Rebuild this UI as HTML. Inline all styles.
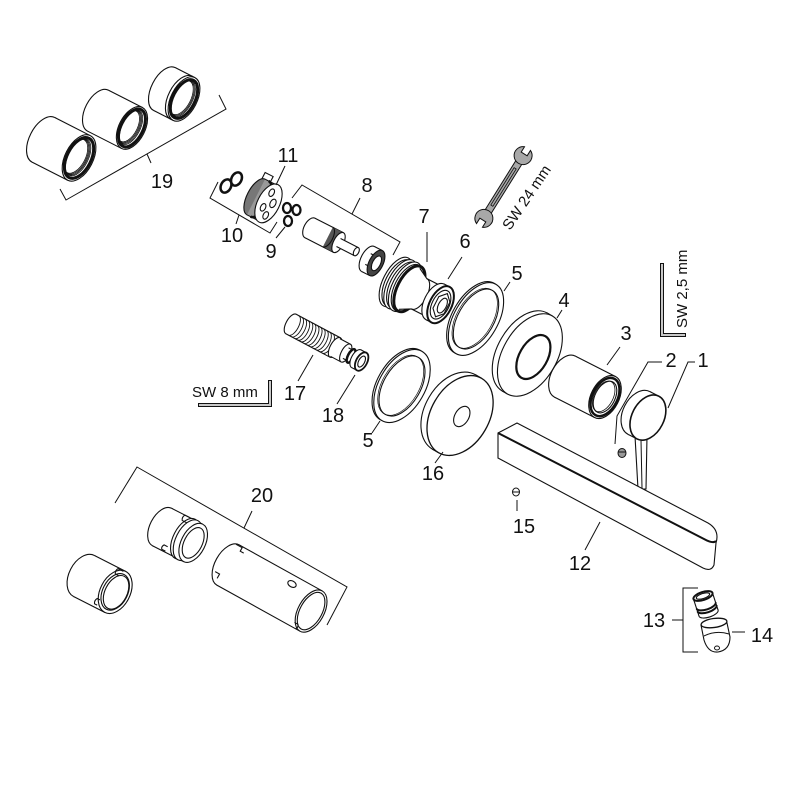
<!DOCTYPE html>
<html><head><meta charset="utf-8"><style>
html,body{margin:0;padding:0;background:#fff;}
svg{display:block}
.p{fill:#fff;stroke:#111;stroke-width:1.1}
.t{font-family:"Liberation Sans",sans-serif;font-size:20px;fill:#111;text-anchor:middle}
.s{font-family:"Liberation Sans",sans-serif;font-size:15px;fill:#111}
.l{fill:none;stroke:#111;stroke-width:1}
</style></head><body>
<svg width="800" height="800" viewBox="0 0 800 800" xmlns="http://www.w3.org/2000/svg">
<rect width="800" height="800" fill="#fff"/>

<!-- 19 cylinders -->
<g transform="translate(43.4,139.8) rotate(27)" class="p">
<ellipse rx="14" ry="25"/>
<rect x="0" y="-25" width="40" height="50" stroke="none"/>
<path d="M0,-25H40M0,25H40" fill="none"/>
<ellipse cx="40" rx="14" ry="25"/>
<g fill="none" stroke-width="0.8"><ellipse cx="39" rx="10" ry="20"/><ellipse cx="38" rx="10" ry="19.5"/><ellipse cx="37" rx="10" ry="19"/><ellipse cx="36" rx="10" ry="18.5"/></g>
<ellipse cx="40" rx="12" ry="22" fill="none" stroke-width="3"/>
</g>
<g transform="translate(98.1,110.7) rotate(27)" class="p">
<ellipse rx="13" ry="23"/>
<rect x="0" y="-23" width="38" height="46" stroke="none"/>
<path d="M0,-23H38M0,23H38" fill="none"/>
<ellipse cx="38" rx="13" ry="23"/>
<g fill="none" stroke-width="0.8"><ellipse cx="37" rx="9" ry="18.5"/><ellipse cx="36" rx="9" ry="18"/><ellipse cx="35" rx="9" ry="17.5"/><ellipse cx="34" rx="9" ry="17"/></g>
<ellipse cx="38" rx="11" ry="20.5" fill="none" stroke-width="3"/>
</g>
<g transform="translate(164.4,89) rotate(27)" class="p">
<ellipse rx="13" ry="24"/>
<rect x="0" y="-24" width="22" height="48" stroke="none"/>
<path d="M0,-24H22M0,24H22" fill="none"/>
<ellipse cx="19" rx="13" ry="24"/>
<ellipse cx="22" rx="13" ry="24"/>
<g fill="none" stroke-width="0.8"><ellipse cx="21" rx="9.5" ry="19.5"/><ellipse cx="20" rx="9.5" ry="19"/><ellipse cx="19" rx="9.5" ry="18.5"/></g>
<ellipse cx="22" rx="11" ry="21" fill="none" stroke-width="3"/>
</g>
<polyline class="l" points="60,189 66,200 226,109 219,95"/>
<line class="l" x1="147" y1="154" x2="151" y2="163"/>
<text class="t" x="162" y="188">19</text>

<!-- 10 rings -->
<ellipse cx="226" cy="186" rx="5" ry="7" transform="rotate(27 226 186)" fill="#fff" stroke="#111" stroke-width="2.5"/>
<ellipse cx="236.5" cy="179" rx="5" ry="7" transform="rotate(27 236.5 179)" fill="#fff" stroke="#111" stroke-width="2.5"/>
<!-- 11 -->
<g transform="translate(256,197) rotate(27)" class="p">
<rect x="-3" y="-26" width="9" height="8"/>
<ellipse rx="9" ry="20" fill="#777"/>
<rect x="0" y="-20" width="14" height="40" fill="#999" stroke="none"/>
<path d="M0,-20H14M0,20H14" fill="none"/>
<path d="M4,-20 A9,20 0 0 1 4,20" fill="none" stroke-width="2.5"/>
<ellipse cx="14" rx="11" ry="21"/>
<ellipse cx="12" cy="-11" rx="2.5" ry="4"/>
<ellipse cx="18" cy="-2" rx="2.8" ry="4.5"/>
<ellipse cx="11" cy="6" rx="2.5" ry="4"/>
<ellipse cx="17" cy="12" rx="2.5" ry="4"/>
</g>
<polyline class="l" points="218,182 210,198 270,233 277,222"/>
<line class="l" x1="239" y1="215" x2="236" y2="224"/>
<text class="t" x="232" y="242">10</text>
<line class="l" x1="285" y1="166" x2="276" y2="185"/>
<text class="t" x="288" y="162">11</text>

<!-- 9 -->
<g fill="#fff" stroke="#111" stroke-width="2.3">
<ellipse cx="287" cy="208" rx="4" ry="5"/>
<ellipse cx="296.5" cy="210" rx="4" ry="5"/>
<ellipse cx="288" cy="221" rx="4" ry="5"/>
</g>
<line class="l" x1="276" y1="238" x2="285" y2="227"/>
<text class="t" x="271" y="258">9</text>

<!-- 8 cartridge -->
<g transform="translate(310,228) rotate(27)" class="p">
<ellipse rx="6" ry="11"/>
<rect x="0" y="-11" width="32" height="22" stroke="none"/>
<path d="M0,-11H32M0,11H32" fill="none"/>
<rect x="20" y="-11" width="10" height="22" fill="#555" stroke="none"/>
<path d="M20,-11 A5,11 0 0 1 20,11" fill="none"/>
<ellipse cx="32" rx="5" ry="11"/>
<rect x="32" y="-4.5" width="20" height="9" stroke="none"/>
<path d="M32,-4.5H52M32,4.5H52" fill="none"/>
<ellipse cx="52" rx="2.5" ry="4.5"/>
</g>
<g transform="translate(368,259) rotate(27)" class="p">
<ellipse rx="7" ry="14"/>
<rect x="0" y="-14" width="9" height="28" stroke="none"/>
<path d="M0,-14H9M0,14H9M0,-6H9M0,6H9" fill="none"/>
<ellipse cx="9" rx="7" ry="14" fill="#444"/>
<ellipse cx="9.5" rx="4" ry="8"/>
</g>
<polyline class="l" points="292,198 302,185 400,242 393,255"/>
<line class="l" x1="352" y1="214" x2="360" y2="198"/>
<text class="t" x="367" y="192">8</text>

<!-- 7 & 6 -->
<g transform="translate(396,282) rotate(27)" class="p">
<ellipse cx="0" rx="13" ry="27"/>
<ellipse cx="2.6" rx="13" ry="25.5"/>
<ellipse cx="5.2" rx="13" ry="27"/>
<ellipse cx="7.8" rx="13" ry="25.5"/>
<ellipse cx="10.4" rx="13" ry="27"/>
<ellipse cx="13" rx="13" ry="25.5"/>
<ellipse cx="15" rx="12" ry="25" stroke-width="3"/>
<polygon points="15,-23 26,-17 44,-17 44,17 26,17 15,23" stroke="none"/>
<polyline points="15,-23 26,-17 44,-17" fill="none"/>
<polyline points="15,23 26,17 44,17" fill="none"/>
<path d="M26,-17 A8,17 0 0 1 26,17" fill="none"/>
<ellipse cx="44" rx="11" ry="20"/>
<rect x="44" y="-20" width="6" height="40" stroke="none"/>
<path d="M44,-20H50M44,20H50" fill="none"/>
<ellipse cx="50" rx="11" ry="20" stroke-width="2"/>
<ellipse cx="50" rx="8.5" ry="15.5"/>
<polygon points="57.2,6.5 51,13 44.8,6.5 44.8,-6.5 51,-13 57.2,-6.5"/>
<ellipse cx="52" rx="4" ry="8"/>
</g>
<line class="l" x1="427" y1="232" x2="427" y2="262"/>
<text class="t" x="424" y="223">7</text>
<line class="l" x1="462" y1="257" x2="448" y2="279"/>
<text class="t" x="465" y="248">6</text>

<!-- wrench -->
<g transform="translate(503.5,187) rotate(-58)" fill="#a8a8a8" stroke="#111" stroke-width="1">
<rect x="-31" y="-3.5" width="62" height="7"/>
<rect x="-22" y="-1.2" width="44" height="2.4" fill="none" stroke-width="0.8"/>
<path d="M45.3,-3.5 L39,-3.5 L39,3.5 L45.3,3.5 A9,9 0 1 1 45.3,-3.5Z"/>
<path d="M-45.3,3.5 L-39,3.5 L-39,-3.5 L-45.3,-3.5 A9,9 0 1 1 -45.3,3.5Z"/>
</g>
<text class="s" transform="translate(510,231) rotate(-56)">SW 24 mm</text>

<!-- SW 2,5 key -->
<path d="M662,263 L662,335 L686,335" fill="none" stroke="#111" stroke-width="4"/>
<path d="M662,264 L662,335 L685,335" fill="none" stroke="#c8c8c8" stroke-width="2"/>
<text class="s" transform="translate(687,328) rotate(-90)">SW 2,5 mm</text>

<!-- 5 upper -->
<g transform="translate(476,319) rotate(30)" class="p">
<ellipse cx="-2" rx="22" ry="40"/>
<ellipse cx="0" rx="22" ry="40"/>
<ellipse cx="0" rx="18" ry="33"/>
<ellipse cx="-1.5" rx="18" ry="33" fill="none" stroke-width="0.7"/>
</g>
<line class="l" x1="510" y1="282" x2="504" y2="291"/>
<text class="t" x="517" y="280">5</text>

<!-- 4 -->
<g transform="translate(524.7,352) rotate(30)" class="p">
<ellipse rx="27" ry="45"/>
<rect x="0" y="-45" width="6" height="90" stroke="none"/>
<path d="M0,-45H6M0,45H6" fill="none"/>
<ellipse cx="6" rx="27" ry="45"/>
<ellipse cx="10" rx="14" ry="24" stroke-width="2.2"/>
</g>
<line class="l" x1="562" y1="310" x2="557" y2="318"/>
<text class="t" x="564" y="307">4</text>

<!-- 3 -->
<g transform="translate(564.9,376.6) rotate(27)" class="p">
<ellipse rx="14" ry="23"/>
<rect x="0" y="-23" width="45" height="46" stroke="none"/>
<path d="M0,-23H45M0,23H45" fill="none"/>
<ellipse cx="45" rx="14" ry="23"/>
<ellipse cx="45" rx="12.5" ry="20.5" stroke-width="2.5"/>
<ellipse cx="45" rx="10" ry="17"/>
<ellipse cx="43.5" rx="9.5" ry="16.5" fill="none" stroke-width="0.8"/>
</g>
<line class="l" x1="620" y1="347" x2="607" y2="365"/>
<text class="t" x="626" y="340">3</text>

<!-- 1 lever & disk -->
<polygon class="p" points="635,436 647,436 646,489 638,489"/>
<line class="l" x1="641" y1="440" x2="642" y2="488"/>
<g transform="translate(639,413) rotate(27)" class="p">
<ellipse rx="16" ry="24"/>
<rect x="0" y="-24" width="10" height="48" stroke="none"/>
<path d="M0,-24H10M0,24H10" fill="none"/>
<ellipse cx="10" rx="16" ry="24" stroke-width="1.6"/>
</g>
<!-- 2 screw -->
<ellipse cx="622" cy="453" rx="4" ry="4.5" fill="#999" stroke="#111" stroke-width="1"/>
<line class="l" x1="618.5" y1="452" x2="625.5" y2="452"/>
<polyline class="l" points="662,362 648,362 617,416 615,444"/>
<text class="t" x="671" y="367">2</text>
<polyline class="l" points="695,362 688,362 668,408"/>
<text class="t" x="703" y="367">1</text>

<!-- 12 spout -->
<path class="p" d="M498,433 L517,423 L708,523 Q720,530 716,543 L714,565 Q711,572 703,568 L498,458 Z"/>
<path d="M498,433 L704,539 Q713,544 716,541" fill="none" stroke="#111" stroke-width="2"/>
<line class="l" x1="585" y1="550" x2="600" y2="522"/>
<text class="t" x="580" y="570">12</text>

<!-- 15 -->
<ellipse cx="516" cy="492" rx="3.5" ry="4" fill="#fff" stroke="#111" stroke-width="1"/>
<line class="l" x1="512.5" y1="492" x2="519.5" y2="492"/>
<line class="l" x1="517" y1="500" x2="517" y2="511"/>
<text class="t" x="524" y="533">15</text>

<!-- 5 lower -->
<g transform="translate(402,386) rotate(30)" class="p">
<ellipse cx="-2" rx="23" ry="40"/>
<ellipse cx="0" rx="23" ry="40"/>
<ellipse cx="0" rx="18.5" ry="33"/>
<ellipse cx="-1.5" rx="18.5" ry="33" fill="none" stroke-width="0.7"/>
</g>
<line class="l" x1="372" y1="433" x2="380" y2="421"/>
<text class="t" x="368" y="447">5</text>

<!-- 16 -->
<g transform="translate(454,412) rotate(30)" class="p">
<ellipse rx="29" ry="43"/>
<rect x="0" y="-43" width="7" height="86" stroke="none"/>
<path d="M0,-43H7M0,43H7" fill="none"/>
<ellipse cx="7" rx="29" ry="43" stroke-width="1.3"/>
<ellipse cx="9" rx="7" ry="11"/>
</g>
<line class="l" x1="435" y1="463" x2="443" y2="452"/>
<text class="t" x="433" y="480">16</text>

<!-- 17 threaded rod -->
<g transform="translate(291,324) rotate(28)" class="p">
<ellipse rx="5" ry="11"/>
<rect x="0" y="-11" width="50" height="22" stroke="none"/>
<path d="M0,-11H50M0,11H50" fill="none"/>
<g fill="none" stroke-width="0.9">
<path d="M3,-11A5,11 0 0 1 3,11M6.5,-11A5,11 0 0 1 6.5,11M10,-11A5,11 0 0 1 10,11M13.5,-11A5,11 0 0 1 13.5,11M17,-11A5,11 0 0 1 17,11M20.5,-11A5,11 0 0 1 20.5,11M24,-11A5,11 0 0 1 24,11M27.5,-11A5,11 0 0 1 27.5,11M31,-11A5,11 0 0 1 31,11M34.5,-11A5,11 0 0 1 34.5,11M38,-11A5,11 0 0 1 38,11M41.5,-11A5,11 0 0 1 41.5,11"/>
</g>
<ellipse cx="50" rx="5" ry="11"/>
<rect x="50" y="-10" width="12" height="20" stroke="none"/>
<path d="M50,-10H62M50,10H62" fill="none"/>
<ellipse cx="62" rx="4.5" ry="10"/>
<rect x="62" y="-6" width="12" height="12" stroke="none"/>
<path d="M62,-6H74M62,6H74" fill="none"/>
<ellipse cx="68" rx="3" ry="7.5" stroke-width="2.5"/>
<ellipse cx="74" rx="5" ry="10"/>
<rect x="74" y="-10" width="6" height="20" stroke="none"/>
<path d="M74,-10H80M74,10H80" fill="none"/>
<ellipse cx="80" rx="5.5" ry="10" stroke-width="1.8"/>
<ellipse cx="80" rx="3" ry="6"/>
</g>
<line class="l" x1="298" y1="381" x2="313" y2="355"/>
<text class="t" x="295" y="400">17</text>
<line class="l" x1="337" y1="404" x2="355" y2="375"/>
<text class="t" x="333" y="422">18</text>

<!-- SW 8 mm -->
<text class="s" x="192" y="397">SW 8 mm</text>
<path d="M198,405 L270,405 L270,380" fill="none" stroke="#111" stroke-width="4"/>
<path d="M199,405 L270,405 L270,381" fill="none" stroke="#c8c8c8" stroke-width="2"/>

<!-- 20 -->
<g transform="translate(84,576) rotate(27)" class="p">
<ellipse rx="15" ry="23"/>
<rect x="0" y="-23" width="35" height="46" stroke="none"/>
<path d="M0,-23H35M0,23H35" fill="none"/>
<ellipse cx="35" rx="15" ry="23"/>
<ellipse cx="35" rx="12.5" ry="19.5"/>
<ellipse cx="36" rx="11" ry="18"/>
<path d="M33,-22 L27,-22 Q25,-19 27,-16 L31,-16 M25,14 L22,14 Q20,17 22,20 L25,20" fill="none"/>
</g>
<g transform="translate(162,527) rotate(27)" class="p">
<ellipse rx="12" ry="21"/>
<rect x="0" y="-21" width="35" height="42" stroke="none"/>
<path d="M0,-21H35M0,21H35" fill="none"/>
<ellipse cx="26" rx="12" ry="22"/>
<ellipse cx="29" rx="12" ry="22"/>
<ellipse cx="35" rx="12" ry="21"/>
<ellipse cx="35" rx="9" ry="16.5"/>
<path d="M20,-21 L15,-21 Q13,-18 15,-15 L20,-15 M14,15 L10,15 Q8,18 10,20 L14,20" fill="none"/>
</g>
<g transform="translate(228,565) rotate(29)" class="p">
<ellipse rx="13" ry="23"/>
<rect x="0" y="-23" width="95" height="46" stroke="none"/>
<path d="M0,-23H95M0,23H95" fill="none"/>
<path d="M-3,-22 L4,-22 L4,-18 L8,-18 M-8,12 L-3,12 L-3,17" fill="none"/>
<ellipse cx="95" rx="13" ry="23"/>
<ellipse cx="95" rx="11" ry="20.5"/>
<path d="M86,18 L90,18 Q92,21 90,23" fill="none"/>
</g>
<ellipse cx="292" cy="584" rx="4.5" ry="3" transform="rotate(29 292 584)" fill="#fff" stroke="#111" stroke-width="1.1"/>
<polyline class="l" points="115,503 137,467 347,587 327,625"/>
<line class="l" x1="244" y1="528" x2="252" y2="511"/>
<text class="t" x="262" y="502">20</text>

<!-- 13 / 14 -->
<g transform="translate(703,596) rotate(72)" class="p">
<ellipse cx="18" rx="4" ry="10"/>
<rect x="0" y="-10" width="18" height="20" stroke="none"/>
<path d="M0,-10H18M0,10H18" fill="none"/>
<path d="M10,-10A4,10 0 0 1 10,10M13,-10A4,10 0 0 1 13,10" fill="none" stroke-width="2"/>
<ellipse cx="0" rx="4" ry="10" stroke-width="2"/>
<ellipse cx="0" rx="2.5" ry="7"/>
</g>
<path class="p" d="M701,625 L704,640 Q708,653 718,652 Q730,650 730,637 L727,623 Z"/>
<ellipse cx="714" cy="623" rx="13" ry="4.5" transform="rotate(-8 714 623)" fill="#fff" stroke="#111" stroke-width="1.3"/>
<path class="l" d="M704,636 Q716,630 729,634"/>
<ellipse cx="717" cy="648" rx="2.5" ry="2" fill="#fff" stroke="#111" stroke-width="1"/>
<polyline class="l" points="698,588 683,588 683,652 698,652"/>
<line class="l" x1="672" y1="620" x2="683" y2="620"/>
<text class="t" x="654" y="627">13</text>
<line class="l" x1="732" y1="632" x2="745" y2="632"/>
<text class="t" x="762" y="642">14</text>
</svg>
</body></html>
